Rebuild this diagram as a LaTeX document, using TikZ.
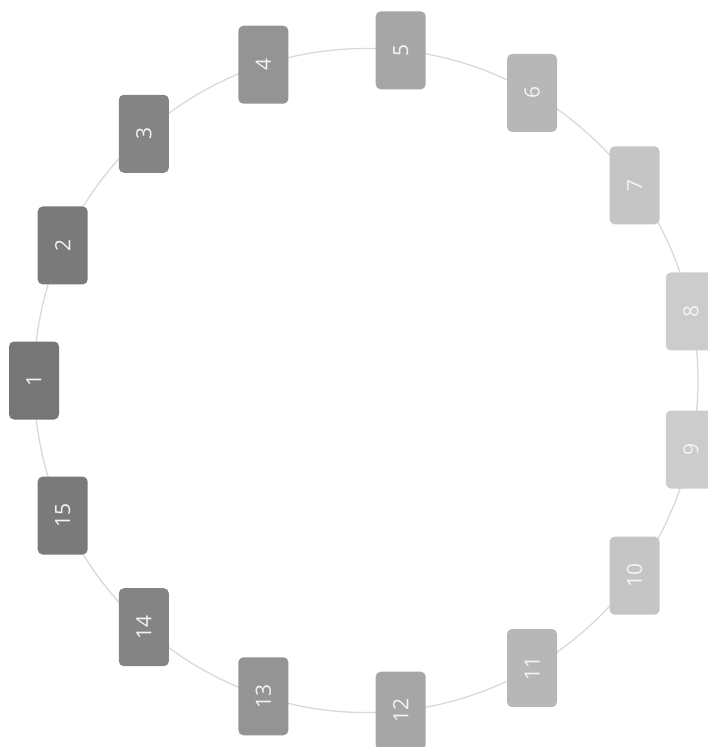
\documentclass[tikz,border=0pt]{standalone}
\usepackage{fontspec}
\setmainfont{Open Sans}
\usetikzlibrary{calc}
\definecolor{ringcol}{HTML}{D9D9D9}
\definecolor{txtcol}{HTML}{F4F4F4}
\begin{document}
\begin{tikzpicture}[x=1pt,y=-1pt,
  box/.style={rounded corners=5pt, minimum width=50pt, minimum height=78pt, inner sep=0pt, text=txtcol, font=\fontsize{21}{21}\selectfont},
  ring/.style={draw=ringcol, line width=1.3pt}]
\useasboundingbox (0,0) rectangle (708,747);
\coordinate (c) at (366,380.5);
\draw[ring] (c) circle [radius=332pt];
\foreach \i in {1,...,15} {
  \pgfmathsetmacro\ang{180-(\i-1)*24}
  \pgfmathsetmacro\g{(118+87*(1+cos(\ang))/2)/255}
  \definecolor{nc}{gray}{\g}
  \node[box, fill=nc] (n\i) at ($(c)+(\ang:332pt)$) {\rotatebox{90}{\i}};
}
\end{tikzpicture}
\end{document}
